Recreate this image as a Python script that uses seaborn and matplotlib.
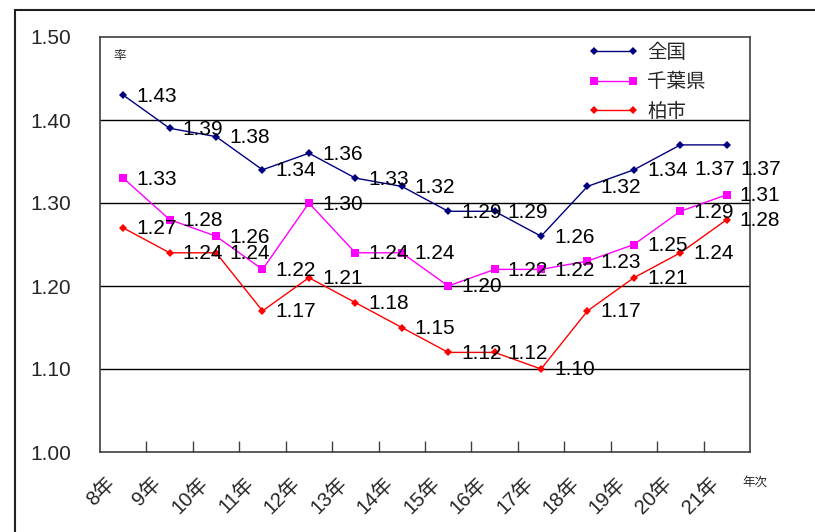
import matplotlib
matplotlib.use("Agg")
import matplotlib.pyplot as plt
import matplotlib.transforms as mtransforms
from matplotlib.patches import Rectangle
import numpy as np
import pandas as pd
import seaborn as sns

# 年次（カテゴリ）
years = ["8年", "9年", "10年", "11年", "12年", "13年", "14年",
         "15年", "16年", "17年", "18年", "19年", "20年", "21年"]

# 合計特殊出生率
zenkoku = [1.43, 1.39, 1.38, 1.34, 1.36, 1.33, 1.32,
           1.29, 1.29, 1.26, 1.32, 1.34, 1.37, 1.37]
chiba = [1.33, 1.28, 1.26, 1.22, 1.30, 1.24, 1.24,
         1.20, 1.22, 1.22, 1.23, 1.25, 1.29, 1.31]
kashiwa = [1.27, 1.24, 1.24, 1.17, 1.21, 1.18, 1.15,
           1.12, 1.12, 1.10, 1.17, 1.21, 1.24, 1.28]

series_names = ["全国", "千葉県", "柏市"]
series_values = [zenkoku, chiba, kashiwa]
colors = {"全国": "#000080", "千葉県": "#FF00FF", "柏市": "#FF0000"}
markers = {"全国": "D", "千葉県": "s", "柏市": "D"}
marker_sizes = {"全国": 4.5, "千葉県": 5.5, "柏市": 4.5}

y_ticks = [1.00, 1.10, 1.20, 1.30, 1.40, 1.50]

rows = []
for name, vals in zip(series_names, series_values):
    for i, v in enumerate(vals):
        rows.append({"pos": i, "year": years[i], "region": name, "value": v})
df = pd.DataFrame(rows)

sns.set_theme(style="white")
plt.rcParams["font.family"] = ["Liberation Sans", "Noto Sans CJK JP", "DejaVu Sans"]

W, H = 815, 532
fig = plt.figure(figsize=(W / 100, H / 100), dpi=100)
ax = fig.add_axes([100 / W, 1 - 452 / H, 650 / W, 415 / H])

sns.lineplot(data=df, x="pos", y="value", hue="region", style="region",
             hue_order=series_names, style_order=series_names,
             palette=colors, markers=markers, dashes=False,
             linewidth=1.0, markeredgewidth=0, ax=ax, legend=True)

for name, line in zip(series_names, ax.get_lines()[:3]):
    line.set_markersize(marker_sizes[name])

# 数値ラベル（点の右側）
label_shift = {("全国", 12): (14, -25), ("全国", 13): (14, -25)}
for name, vals in zip(series_names, series_values):
    for i, v in enumerate(vals):
        dx, dy = label_shift.get((name, i), (13, -1))
        ax.annotate(f"{v:.2f}", xy=(i, v), xytext=(dx, dy),
                    textcoords="offset pixels", ha="left", va="center",
                    fontsize=15, color="black")

ax.set_xlim(-0.5, len(years) - 0.5)
ax.set_ylim(1.0, 1.5)
ax.set_yticks(y_ticks)
ax.set_yticklabels([f"{t:.2f}" for t in y_ticks], fontsize=15)
ax.tick_params(axis="y", length=0, pad=21)

ax.set_xticks(np.arange(len(years)))
ax.set_xticklabels(years, fontsize=14.5, rotation=45, ha="right", va="top",
                   rotation_mode="anchor")
ax.tick_params(axis="x", which="major", length=0, pad=0)
ax.set_xticks(np.arange(len(years) - 1) + 0.5, minor=True)
ax.tick_params(axis="x", which="minor", direction="in", length=8,
               width=1.0, color="#404040", bottom=True)
shift = mtransforms.ScaledTranslation(-18 / 100, -22 / 100, fig.dpi_scale_trans)
for t in ax.get_xticklabels():
    t.set_transform(t.get_transform() + shift)

ax.set_xlabel("")
ax.set_ylabel("")

for y in y_ticks[1:-1]:
    ax.axhline(y, color="black", linewidth=1.0, zorder=0)

for sp in ax.spines.values():
    sp.set_color("#404040")
    sp.set_linewidth(1.2)

handles, labels = ax.get_legend_handles_labels()
leg = ax.legend(handles, labels, loc="upper left",
                bbox_to_anchor=(0.751, 0.985), frameon=False, fontsize=14,
                handlelength=2.6, handletextpad=0.45, labelspacing=0.6,
                borderpad=0, borderaxespad=0, numpoints=2)
for name, h in zip(series_names, leg.legend_handles):
    h.set_markersize(marker_sizes[name])
    h.set_linewidth(1.0)

ax.text(0.02, 0.955, "率", transform=ax.transAxes, fontsize=9,
        ha="left", va="center")
fig.text(742 / W, 1 - 483 / H, "年次", fontsize=9, ha="left", va="center")

# 外枠
fig.add_artist(Rectangle((15 / W, 1 - 560 / H), 830 / W, 550 / H,
                         transform=fig.transFigure, fill=False,
                         edgecolor="#202020", linewidth=1.5, clip_on=False))

fig.savefig("out.png", dpi=100)
